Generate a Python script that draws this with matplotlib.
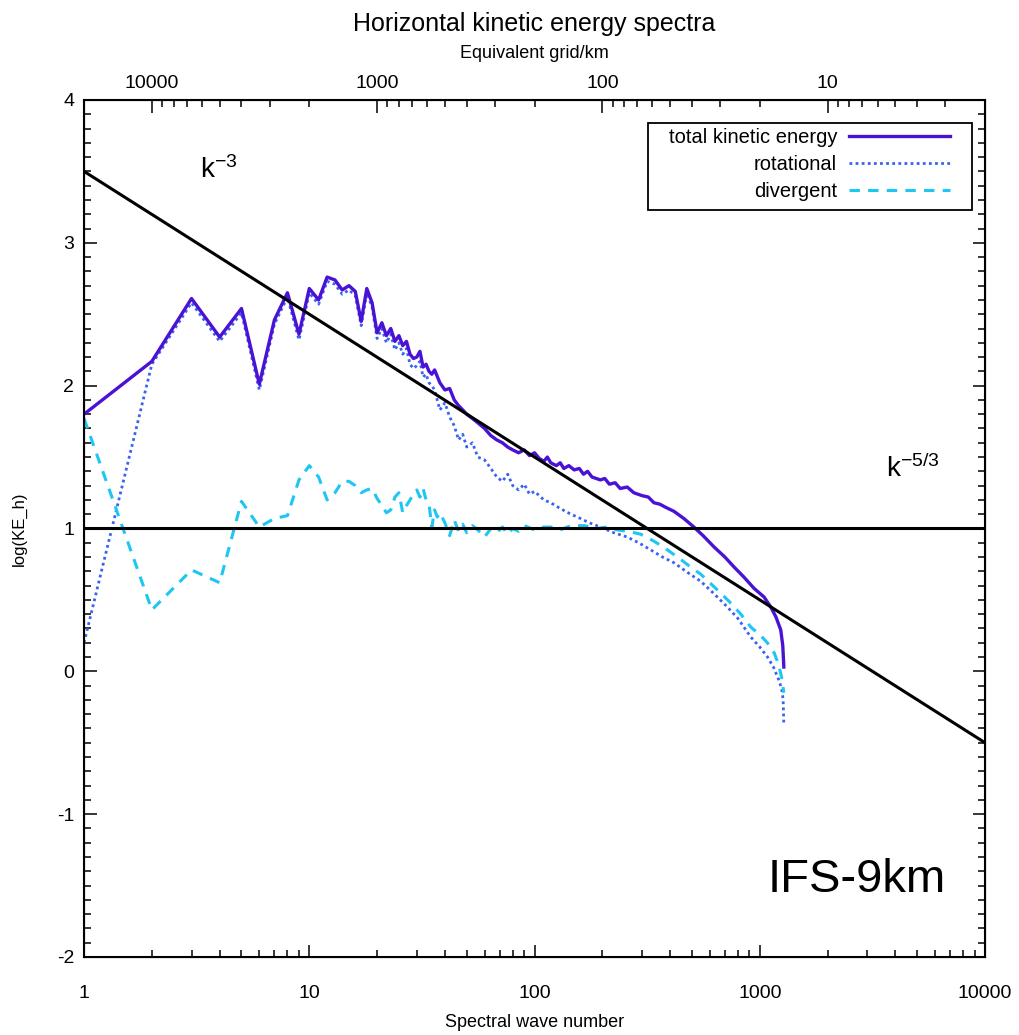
import matplotlib.pyplot as plt
from matplotlib.patches import Rectangle
from matplotlib.ticker import FixedLocator, FuncFormatter, LogLocator, MultipleLocator, NullFormatter

# Total kinetic energy
k_total = [1, 2, 3, 4, 5, 6, 7, 8, 9, 10, 11, 12, 13, 14, 15, 16, 17, 18, 19, 20,
           21, 22, 23, 24, 25, 26, 27, 28, 29, 30, 31, 32, 33, 34, 35, 36, 38, 40,
           42, 44, 46, 48, 50, 53, 56, 60, 64, 68, 72, 76, 80, 85, 90, 95, 100,
           105, 110, 114, 118, 125, 130, 135, 142, 150, 158, 165, 172, 180, 196,
           205, 215, 228, 240, 258, 276, 300, 320, 339, 360, 380, 416, 460, 510,
           560, 627, 700, 769, 850, 944, 1045, 1119, 1180, 1239, 1265, 1279]
ke_total = [1.80, 2.17, 2.61, 2.34, 2.54, 2.01, 2.46, 2.65, 2.36, 2.68, 2.60, 2.76,
            2.74, 2.67, 2.70, 2.66, 2.45, 2.68, 2.58, 2.37, 2.44, 2.35, 2.40, 2.31,
            2.35, 2.28, 2.31, 2.22, 2.19, 2.20, 2.24, 2.13, 2.15, 2.10, 2.08, 2.11,
            2.02, 1.97, 1.98, 1.90, 1.86, 1.83, 1.80, 1.77, 1.74, 1.70, 1.65, 1.62,
            1.60, 1.57, 1.55, 1.53, 1.55, 1.51, 1.53, 1.49, 1.47, 1.50, 1.46, 1.44,
            1.46, 1.42, 1.44, 1.41, 1.42, 1.38, 1.40, 1.36, 1.34, 1.35, 1.31, 1.32,
            1.28, 1.29, 1.25, 1.23, 1.22, 1.18, 1.17, 1.15, 1.12, 1.07, 1.01, 0.95,
            0.87, 0.80, 0.73, 0.66, 0.58, 0.52, 0.45, 0.38, 0.29, 0.18, 0.03]

# Rotational part
k_rot = [1, 2, 3, 4, 5, 6, 7, 8, 9, 10, 11, 12, 13, 14, 15, 16, 17, 18, 19, 20,
         21, 22, 23, 24, 25, 26, 27, 28, 29, 30, 31, 32, 33, 34, 35, 36, 38, 40,
         42, 44, 46, 48, 50, 53, 56, 60, 64, 68, 72, 76, 80, 85, 90, 95, 100,
         110, 118, 130, 145, 155, 175, 196, 225, 258, 290, 328, 370, 416, 480,
         547, 620, 718, 800, 912, 1000, 1082, 1150, 1207, 1250, 1270, 1279]
ke_rot = [0.20, 2.15, 2.58, 2.31, 2.51, 1.97, 2.43, 2.62, 2.32, 2.65, 2.57, 2.73,
          2.71, 2.64, 2.67, 2.63, 2.42, 2.65, 2.55, 2.33, 2.40, 2.30, 2.36, 2.25,
          2.30, 2.22, 2.26, 2.15, 2.12, 2.14, 2.17, 2.06, 2.08, 2.02, 2.00, 1.97,
          1.83, 1.88, 1.78, 1.72, 1.62, 1.66, 1.57, 1.60, 1.50, 1.48, 1.42, 1.36,
          1.33, 1.38, 1.30, 1.27, 1.31, 1.24, 1.26, 1.20, 1.18, 1.14, 1.10, 1.08,
          1.04, 1.01, 0.97, 0.94, 0.90, 0.85, 0.80, 0.76, 0.69, 0.63, 0.55, 0.45,
          0.37, 0.24, 0.17, 0.10, 0.03, -0.05, -0.12, -0.20, -0.38]

# Divergent part
k_div = [1, 2, 3, 4, 5, 6, 7, 8, 9, 10, 11, 12, 13, 14, 15, 16, 17, 18, 19, 20,
         21, 22, 23, 24, 25, 26, 27, 28, 29, 30, 31, 32, 33, 34, 35, 36, 37, 38,
         40, 42, 44, 46, 48, 50, 53, 56, 60, 64, 68, 72, 76, 80, 85, 90, 100,
         110, 118, 130, 145, 166, 190, 210, 233, 260, 296, 340, 389, 440, 493,
         547, 648, 730, 824, 912, 1010, 1080, 1158, 1210, 1250, 1279]
ke_div = [1.77, 0.43, 0.71, 0.62, 1.19, 1.01, 1.07, 1.09, 1.34, 1.44, 1.36, 1.20,
          1.25, 1.33, 1.33, 1.30, 1.25, 1.27, 1.28, 1.21, 1.16, 1.11, 1.13, 1.22,
          1.25, 1.11, 1.16, 1.20, 1.24, 1.27, 1.22, 1.28, 1.20, 1.17, 1.01, 1.13,
          1.08, 1.11, 1.04, 0.95, 1.06, 0.98, 1.03, 0.97, 1.02, 0.99, 0.94, 1.00,
          0.97, 1.01, 0.96, 1.00, 0.98, 1.02, 0.99, 1.01, 1.01, 0.99, 1.02, 1.02,
          1.00, 1.01, 0.99, 0.98, 0.96, 0.91, 0.85, 0.79, 0.73, 0.68, 0.57, 0.49,
          0.40, 0.31, 0.25, 0.20, 0.13, 0.05, -0.04, -0.15]

# Reference slopes
k_ref = [1, 10000]
slope_k3 = [3.5, -0.5]
slope_k53 = [1.0, 1.0]

plt.rcParams["font.family"] = ["Liberation Sans", "DejaVu Sans"]
plt.rcParams["axes.unicode_minus"] = False

fig = plt.figure(figsize=(10.2, 10.35), dpi=100)
ax = fig.add_axes([0.0824, 0.0754, 0.8833, 0.828])

ax.plot(k_total, ke_total, color="#4a12d4", lw=2.4,
        label="total kinetic energy", zorder=3)
ax.plot(k_rot, ke_rot, color="#3a62f2", lw=2.0, ls=(0, (1, 1.2)),
        label="rotational", zorder=2)
ax.plot(k_div, ke_div, color="#1ec6f4", lw=2.2, ls=(0, (3.4, 2.7)),
        label="divergent", zorder=2)

ax.plot(k_ref, slope_k3, color="black", lw=2.2, zorder=4)
ax.plot(k_ref, slope_k53, color="black", lw=2.2, zorder=4)

ax.set_xscale("log")
ax.set_xlim(1, 10000)
ax.set_ylim(-2, 4)

ax.xaxis.set_major_locator(FixedLocator([1, 10, 100, 1000, 10000]))
ax.xaxis.set_major_formatter(FuncFormatter(lambda v, p: f"{v:g}"))
ax.xaxis.set_minor_locator(LogLocator(base=10, subs=range(2, 10)))
ax.xaxis.set_minor_formatter(NullFormatter())
ax.yaxis.set_major_locator(MultipleLocator(1))
ax.yaxis.set_minor_locator(MultipleLocator(0.1))

ax.tick_params(which="both", direction="in", width=1.1, labelsize=14,
               top=False, right=True)
ax.tick_params(which="major", length=9)
ax.tick_params(which="minor", length=5)
ax.tick_params(axis="x", which="major", pad=20)
ax.tick_params(axis="y", which="major", pad=7)
for s in ax.spines.values():
    s.set_linewidth(1.5)

ax.set_xlabel("Spectral wave number", fontsize=13, labelpad=9)
ax.set_ylabel("log(KE_h)", fontsize=12)
ax.yaxis.set_label_coords(-0.063, 0.5)

# Top axis: equivalent grid spacing
ax2 = ax.twiny()
ax2.set_xscale("log")
ax2.set_xlim(20000, 2)
ax2.xaxis.set_major_locator(FixedLocator([10000, 1000, 100, 10]))
ax2.xaxis.set_major_formatter(FuncFormatter(lambda v, p: f"{v:g}"))
ax2.xaxis.set_minor_locator(LogLocator(base=10, subs=range(2, 10)))
ax2.xaxis.set_minor_formatter(NullFormatter())
ax2.tick_params(which="both", direction="in", width=1.1, labelsize=14)
ax2.tick_params(which="major", length=9, pad=6)
ax2.tick_params(which="minor", length=5)
ax2.set_xlabel("Equivalent grid/km", fontsize=13, labelpad=12)
ax2.set_title("Horizontal kinetic energy spectra", fontsize=18, pad=10)

# Legend (gnuplot style: text right-aligned, key on the right)
leg = ax.legend(loc="upper right", bbox_to_anchor=(0.9656, 0.9715),
                borderaxespad=0, markerfirst=False, frameon=False,
                fontsize=14.5, handlelength=5.0, handletextpad=0.6,
                labelspacing=0.38, borderpad=0.2)
ax.add_patch(Rectangle((0.626, 0.8716), 0.3596, 0.1016, transform=ax.transAxes,
                       fill=False, edgecolor="black", lw=1.3, zorder=5))

ax.text(0.15, 0.918, r"$\mathregular{k^{-3}}$", transform=ax.transAxes,
        fontsize=20, ha="center", va="center")
ax.text(0.92, 0.57, r"$\mathregular{k^{-5/3}}$", transform=ax.transAxes,
        fontsize=20, ha="center", va="center")
ax.text(0.957, 0.09, "IFS-9km", transform=ax.transAxes, fontsize=34,
        ha="right", va="center")

fig.savefig("out.png", dpi=100)
